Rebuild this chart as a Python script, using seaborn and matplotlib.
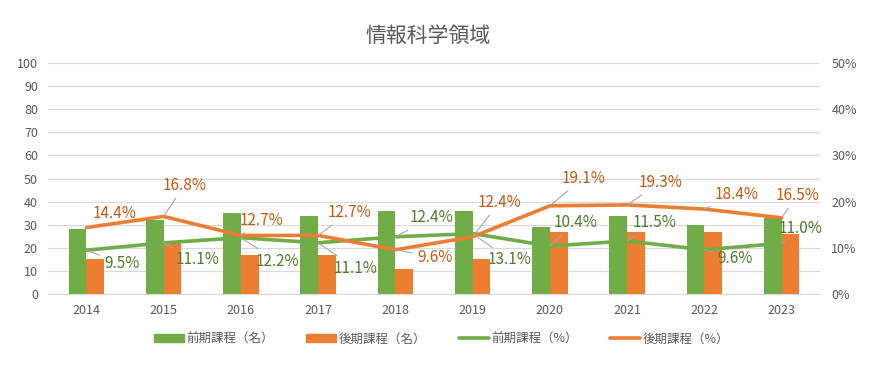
import numpy as np
import pandas as pd
import matplotlib.pyplot as plt
from matplotlib.lines import Line2D
from matplotlib.patches import Patch
import seaborn as sns

# データ
years = ['2014', '2015', '2016', '2017', '2018', '2019', '2020', '2021', '2022', '2023']
zenki_count = [28, 32, 35, 34, 36, 36, 29, 34, 30, 33]
kouki_count = [15, 22, 17, 17, 11, 15, 27, 27, 27, 26]
zenki_pct = [9.5, 11.1, 12.2, 11.1, 12.4, 13.1, 10.4, 11.5, 9.6, 11.0]
kouki_pct = [14.4, 16.8, 12.7, 12.7, 9.6, 12.4, 19.1, 19.3, 18.4, 16.5]

names = ['前期課程（名）', '後期課程（名）', '前期課程（%）', '後期課程（%）']
GREEN = '#70AD47'
ORANGE = '#ED7D31'
GREEN_TXT = '#4F7A28'
ORANGE_TXT = '#C65911'
GRAY = '#595959'

# ラベル位置 (x方向のずれ, %軸での高さ)
zenki_lbl = [(0.46, 6.7), (1.44, 7.4), (2.48, 7.1), (3.48, 5.6), (4.47, 16.5),
             (5.48, 7.4), (6.33, 15.6), (7.36, 15.4), (8.40, 7.8), (9.24, 14.3)]
kouki_lbl = [(0.37, 17.5), (1.27, 23.6), (2.27, 16.0), (3.40, 17.7), (4.51, 8.0),
             (5.35, 19.9), (6.43, 25.1), (7.43, 24.2), (8.42, 21.6), (9.20, 21.4)]

counts = pd.DataFrame({'year': years * 2,
                       'value': zenki_count + kouki_count,
                       'series': [names[0]] * 10 + [names[1]] * 10})
pcts = pd.DataFrame({'year': years * 2,
                     'value': zenki_pct + kouki_pct,
                     'series': [names[2]] * 10 + [names[3]] * 10})

sns.set_style('white')
plt.rcParams['font.family'] = ['Noto Sans CJK JP', 'DejaVu Sans']

fig = plt.figure(figsize=(8.83, 3.84), dpi=100)
ax = fig.add_axes([0.054, 0.234, 0.875, 0.602])

sns.barplot(data=counts, x='year', y='value', hue='series',
            palette=[GREEN, ORANGE], width=0.46, gap=0, saturation=1, ax=ax,
            edgecolor='none', legend=False)
ax.set_ylim(0, 100)
ax.set_yticks(range(0, 101, 10))
ax.set_xlim(-0.5, 9.5)
ax.grid(axis='y', color='#D9D9D9', lw=0.9)
ax.set_axisbelow(True)
ax.set_xlabel('')
ax.set_ylabel('')
for s in ['top', 'left', 'right']:
    ax.spines[s].set_visible(False)
ax.spines['bottom'].set_color('#D9D9D9')
ax.tick_params(axis='both', colors=GRAY, labelsize=9, length=0, pad=7)

ax2 = ax.twinx()
sns.pointplot(data=pcts, x='year', y='value', hue='series',
              palette=[GREEN, ORANGE], markers='', linewidth=2.6,
              ax=ax2, legend=False, errorbar=None)
ax2.set_ylim(0, 50)
ax2.set_yticks(range(0, 51, 10))
ax2.set_yticklabels([f'{v}%' for v in range(0, 51, 10)])
ax2.set_xlim(-0.5, 9.5)
ax2.set_ylabel('')
for s in ['top', 'left', 'right', 'bottom']:
    ax2.spines[s].set_visible(False)
ax2.tick_params(axis='y', colors=GRAY, labelsize=9, length=0, pad=8)

# データラベル
for vals, lbls, col in [(zenki_pct, zenki_lbl, GREEN_TXT), (kouki_pct, kouki_lbl, ORANGE_TXT)]:
    for i, (v, (lx, ly)) in enumerate(zip(vals, lbls)):
        ax2.annotate(f'{v:.1f}%', xy=(i, v), xytext=(lx, ly), textcoords='data',
                     ha='center', va='center', fontsize=11, color=col,
                     arrowprops=dict(arrowstyle='-', color='#A6A6A6', lw=0.8,
                                     shrinkA=1, shrinkB=0))

fig.suptitle('情報科学領域', x=0.485, y=0.935, fontsize=15, color=GRAY)

handles = [Patch(color=GREEN), Patch(color=ORANGE),
           Line2D([], [], color=GREEN, lw=2.6), Line2D([], [], color=ORANGE, lw=2.6)]
fig.legend(handles, names, loc='center', bbox_to_anchor=(0.5, 0.117), ncol=4,
           frameon=False, fontsize=9, labelcolor=GRAY, handlelength=2.4,
           handleheight=0.6, columnspacing=2.6, handletextpad=0.2)

fig.savefig('out.png', dpi=100)
